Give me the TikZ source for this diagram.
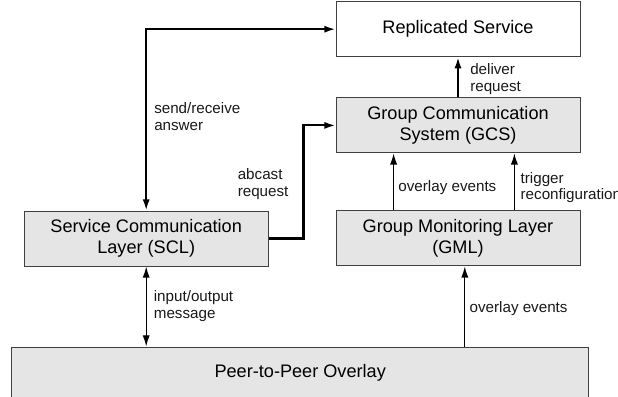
\documentclass[tikz,border=0pt]{standalone}
\usepackage{fontspec}
\setmainfont{Liberation Sans}
\usepackage{tikz}
\usetikzlibrary{arrows.meta,calc,positioning}

\begin{document}
\begin{tikzpicture}[>={Latex[length=2.8mm,width=1.8mm]},
    layer/.style={draw=black!75, fill=black!10, line width=0.7pt,
      minimum width=6.1cm, minimum height=1.375cm, align=center,
      font=\fontsize{12.9}{14.7}\selectfont},
    lbl/.style={align=left, inner sep=3pt, text=black!90,
      font=\fontsize{10.8}{12}\selectfont},
    strong/.style={line width=1.45pt},
    weak/.style={line width=0.9pt}]

  \useasboundingbox (0,0) rectangle (15.45,9.9) ;

  \node [layer, fill=white] (rs) at (11.45,9.17) {Replicated Service} ;
  \node [layer] (gcs) at (11.45,6.765) {Group Communication\\System (GCS)} ;
  \node [layer] (scl) at (3.655,3.9375) {Service Communication\\Layer (SCL)} ;
  \node [layer] (gml) at (11.45,3.94) {Group Monitoring Layer\\(GML)} ;
  \node [layer, minimum width=14.425cm, minimum height=1.3cm] (p2p) at (7.505,0.575)
    {Peer-to-Peer Overlay} ;

  % upper part
  \draw [strong, <->] (scl.north) |- node [lbl, right, pos=0.26, xshift=2pt] {send/receive\\answer} (rs.west) ;
  \draw [strong, ->] (scl.east) -- ++(0.87,0) |- node [lbl, left, pos=0.24, xshift=-7pt] {abcast\\request} (gcs.west) ;
  \draw [strong, ->] (gcs.north) -- node [lbl, right, xshift=5pt, yshift=-1pt] {deliver\\request} (rs.south) ;

  % monitoring
  \draw [weak, ->] ([xshift=-1.61cm]gml.north) -- node [lbl, right, pos=0.4] {overlay events} ([xshift=-1.61cm]gcs.south) ;
  \draw [weak, ->] ([xshift=1.41cm]gml.north) -- node [lbl, right, pos=0.4, xshift=1pt] {trigger\\reconfiguration} ([xshift=1.41cm]gcs.south) ;

  % overlay
  \draw [weak, <->] (scl.south) -- node [lbl, right, xshift=2pt] {input/output\\message} (scl.south |- p2p.north) ;
  \draw [weak, ->] ([xshift=0.17cm]gml.south |- p2p.north) -- node [lbl, right, pos=0.47] {overlay events} ([xshift=0.17cm]gml.south) ;

\end{tikzpicture}
\end{document}
